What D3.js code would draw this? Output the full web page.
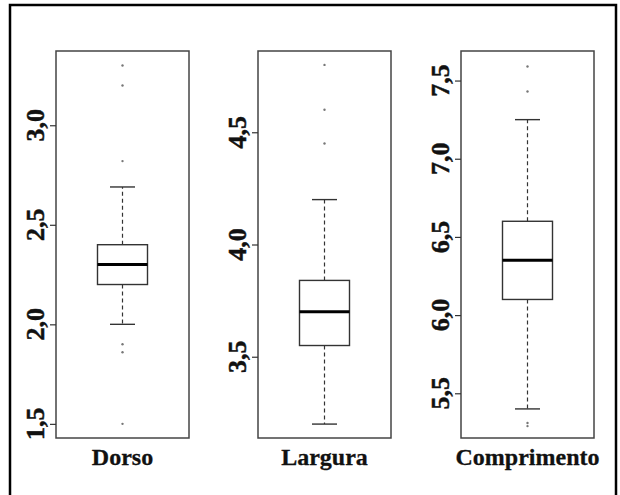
<!DOCTYPE html>
<html>
<head>
<meta charset="utf-8">
<script src="https://cdn.jsdelivr.net/npm/d3@7"></script>
<style>
  body { margin: 0; background: #fff; }
  text { font-family: "Liberation Serif", "Times New Roman", serif; font-weight: bold; fill: #111; }
</style>
</head>
<body>
<svg id="chart" width="620" height="495"></svg>
<script>
// data
var categories = ["Dorso", "Largura", "Comprimento"];
var lowerWhisker = [2.00, 3.20, 5.40];
var q1 = [2.20, 3.55, 6.10];
var medians = [2.30, 3.70, 6.35];
var q3 = [2.40, 3.84, 6.60];
var upperWhisker = [2.69, 4.20, 7.25];
var outliers = [
    [3.30, 3.20, 2.82, 1.90, 1.86, 1.50],
    [4.80, 4.60, 4.45],
    [7.59, 7.43, 5.31, 5.29]
];
var yDomains = [[1.429, 3.373], [3.138, 4.862], [5.214, 7.689]];
var tickValues = [
    [1.5, 2.0, 2.5, 3.0],
    [3.5, 4.0, 4.5],
    [5.5, 6.0, 6.5, 7.0, 7.5]
];

var svg = d3.select("#chart");
var panelTop = 51, panelBottom = 438;
var panelLeft = [56, 258, 461];
var panelWidth = 133;
var boxHalf = 25, capHalf = 12.5;

var fmt = function(v) { return d3.format(".1f")(v).replace(".", ","); };

// outer frame
svg.append("rect")
    .attr("x", 10).attr("y", 5)
    .attr("width", 606).attr("height", 500)
    .attr("fill", "none").attr("stroke", "#000").attr("stroke-width", 2.5);

categories.forEach(function(cat, i) {
    var x0 = panelLeft[i];
    var cx = x0 + panelWidth / 2;
    var y = d3.scaleLinear().domain(yDomains[i]).range([panelBottom, panelTop]);
    var g = svg.append("g");

    // panel frame
    g.append("rect")
        .attr("x", x0).attr("y", panelTop)
        .attr("width", panelWidth).attr("height", panelBottom - panelTop)
        .attr("fill", "none").attr("stroke", "#444").attr("stroke-width", 1.5);

    // y axis
    var axis = g.append("g")
        .attr("transform", "translate(" + x0 + ",0)")
        .call(d3.axisLeft(y).tickValues(tickValues[i]).tickSize(6).tickFormat(""));
    axis.select(".domain").remove();
    axis.selectAll(".tick line").attr("stroke", "#333").attr("stroke-width", 1.2);

    g.selectAll(".ylab")
        .data(tickValues[i])
        .enter().append("text")
        .attr("class", "ylab")
        .attr("transform", function(d) { return "translate(" + (x0 - 12) + "," + y(d) + ") rotate(-90)"; })
        .attr("text-anchor", "middle")
        .style("font-size", "26px")
        .style("stroke", "#111").style("stroke-width", 0.5)
        .text(fmt);

    // whiskers
    g.append("line")
        .attr("x1", cx).attr("x2", cx)
        .attr("y1", y(q3[i])).attr("y2", y(upperWhisker[i]))
        .attr("stroke", "#333").attr("stroke-width", 1.2).attr("stroke-dasharray", "4,3");
    g.append("line")
        .attr("x1", cx).attr("x2", cx)
        .attr("y1", y(q1[i])).attr("y2", y(lowerWhisker[i]))
        .attr("stroke", "#333").attr("stroke-width", 1.2).attr("stroke-dasharray", "4,3");
    [upperWhisker[i], lowerWhisker[i]].forEach(function(v) {
        g.append("line")
            .attr("x1", cx - capHalf).attr("x2", cx + capHalf)
            .attr("y1", y(v)).attr("y2", y(v))
            .attr("stroke", "#333").attr("stroke-width", 1.4);
    });

    // box
    g.append("rect")
        .attr("x", cx - boxHalf).attr("y", y(q3[i]))
        .attr("width", boxHalf * 2).attr("height", y(q1[i]) - y(q3[i]))
        .attr("fill", "#fff").attr("stroke", "#333").attr("stroke-width", 1.4);
    g.append("line")
        .attr("x1", cx - boxHalf).attr("x2", cx + boxHalf)
        .attr("y1", y(medians[i])).attr("y2", y(medians[i]))
        .attr("stroke", "#000").attr("stroke-width", 3);

    // outliers
    g.selectAll(".pt")
        .data(outliers[i])
        .enter().append("circle")
        .attr("class", "pt")
        .attr("cx", cx).attr("cy", function(d) { return y(d); })
        .attr("r", 1.2)
        .attr("fill", "#777");

    // category label
    g.append("text")
        .attr("x", cx).attr("y", 465)
        .attr("text-anchor", "middle")
        .style("font-size", "24px")
        .style("stroke", "#111").style("stroke-width", 0.3)
        .text(cat);
});
</script>
</body>
</html>
